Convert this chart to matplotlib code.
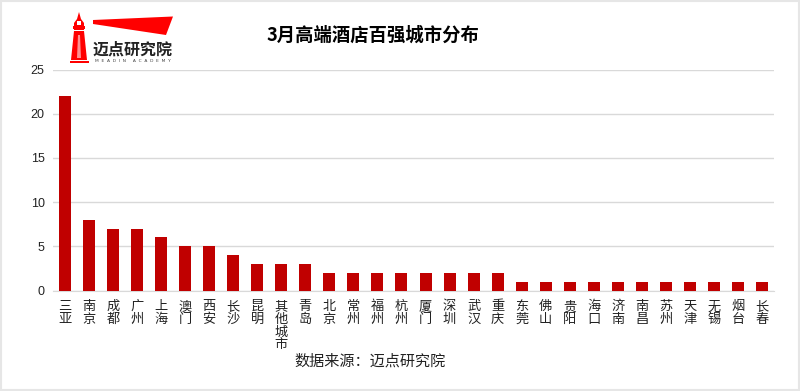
import matplotlib
matplotlib.use("Agg")
import matplotlib.pyplot as plt
from matplotlib.patches import Polygon, Rectangle

cities = ["三亚", "南京", "成都", "广州", "上海", "澳门", "西安", "长沙", "昆明", "其他城市",
          "青岛", "北京", "常州", "福州", "杭州", "厦门", "深圳", "武汉", "重庆", "东莞",
          "佛山", "贵阳", "海口", "济南", "南昌", "苏州", "天津", "无锡", "烟台", "长春"]
counts = [22, 8, 7, 7, 6, 5, 5, 4, 3, 3,
          3, 2, 2, 2, 2, 2, 2, 2, 2, 1,
          1, 1, 1, 1, 1, 1, 1, 1, 1, 1]
y_ticks = [0, 5, 10, 15, 20, 25]

CJK = ["Noto Sans CJK SC", "DejaVu Sans"]
W, H = 800, 391


def draw_logo(ov):
    # lighthouse and flag, in pixel coordinates of the overlay
    red = "#FF0000"
    ov.add_patch(Polygon([(79, 12), (81, 19), (84, 23), (84, 30), (74, 30), (74, 23), (77, 19)],
                         color=red, lw=0))
    ov.add_patch(Rectangle((76.5, 21), 4.5, 4, color="white", lw=0))
    ov.add_patch(Rectangle((73, 26), 12, 3, color=red, lw=0))
    ov.add_patch(Polygon([(74, 31), (84, 31), (87, 60), (71, 60)], color=red, lw=0))
    ov.add_patch(Polygon([(78, 35), (80, 35), (81, 58), (77, 58)], color="#FF9090", lw=0))
    ov.add_patch(Rectangle((70, 60.5), 19, 2, color=red, lw=0))
    ov.add_patch(Polygon([(93, 20), (173, 16.5), (166, 35), (93, 24)], color=red, lw=0))
    ov.text(133, 49.5, "迈点研究院", family=CJK, fontsize=11.5, fontweight="bold",
            color="#222222", ha="center", va="center")
    ov.text(133, 61, "M  E  A  D  I  N     A  C  A  D  E  M  Y", family="DejaVu Sans", fontsize=3.2,
            color="#444444", ha="center", va="center")


def main():
    fig = plt.figure(figsize=(W / 100, H / 100), dpi=100)
    ax = fig.add_axes([53 / W, 1 - 290.5 / H, 721 / W, 221 / H])

    ax.bar(range(len(cities)), counts, width=0.5, color="#C00000", zorder=3)
    ax.set_xlim(-0.5, len(cities) - 0.5)
    ax.set_ylim(0, 25)
    ax.set_yticks(y_ticks)
    ax.set_xticks(range(len(cities)))
    # vertical labels: one character per line
    ax.set_xticklabels(["\n".join(c) for c in cities], family=CJK, fontsize=9.5,
                       linespacing=0.96, color="#222222")
    ax.tick_params(axis="both", length=0)
    ax.tick_params(axis="x", pad=7)
    ax.tick_params(axis="y", pad=6)
    for lab in ax.get_yticklabels():
        lab.set_family("Liberation Sans")
        lab.set_fontsize(9)
        lab.set_color("#222222")
    ax.grid(axis="y", color="#D9D9D9", lw=1, zorder=0)
    for side in ["top", "right", "left"]:
        ax.spines[side].set_visible(False)
    ax.spines["bottom"].set_color("#D9D9D9")

    # overlay in pixel coordinates for frame, logo and free texts
    ov = fig.add_axes([0, 0, 1, 1], facecolor="none")
    ov.set_xlim(0, W)
    ov.set_ylim(H, 0)
    ov.axis("off")
    ov.add_patch(Rectangle((1, 1), W - 2, H - 2, fill=False, ec="#E6E6E6", lw=1.5))
    draw_logo(ov)
    ov.text(372.5, 35.5, "3月高端酒店百强城市分布", family=CJK, fontsize=13.2, fontweight="bold",
            color="black", ha="center", va="center")
    ov.text(370.5, 361.5, "数据来源：迈点研究院", family=CJK, fontsize=10.9,
            color="#222222", ha="center", va="center")

    fig.savefig("out.png", dpi=100)


if __name__ == "__main__":
    main()
